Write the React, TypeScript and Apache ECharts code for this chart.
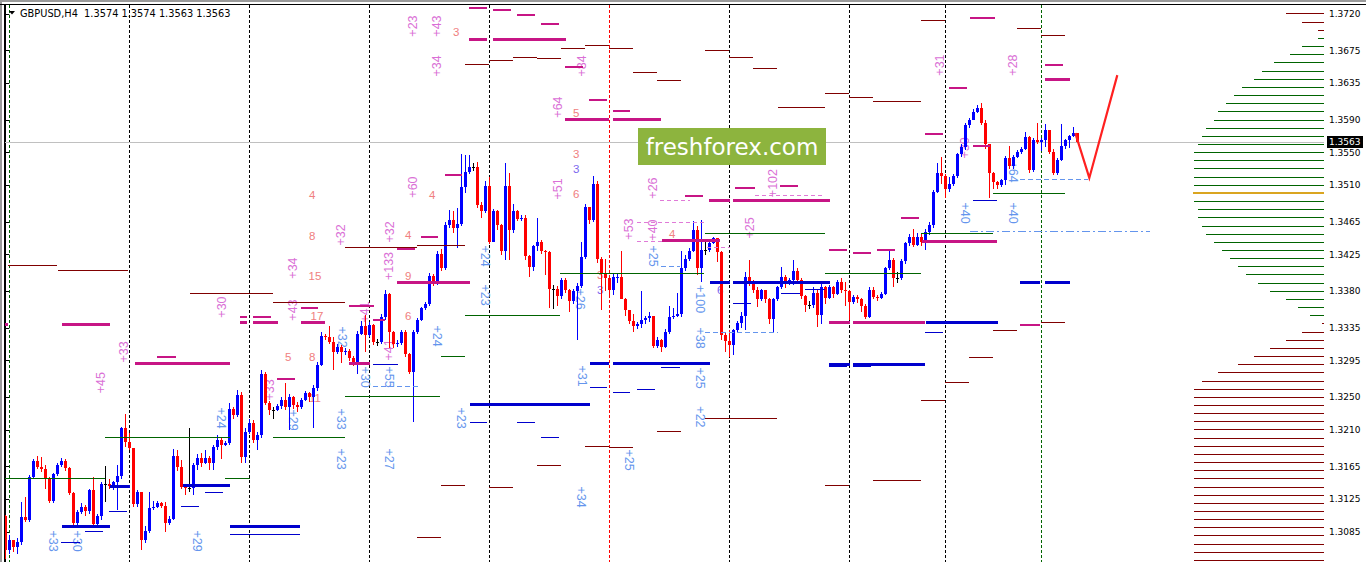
import React, { useEffect, useRef } from "react";
import * as echarts from "echarts";

// ---------- scale helpers (prices stored as pips above 1.3000) ----------
const BASE = 1.3;
const PIP = 0.0001;
const toPrice = (p: number) => BASE + p * PIP;

// ---------- candles: GBPUSD H4 (pips above 1.3000) ----------
const firstOpen = 104;
const closes = [
  63, 75, 67, 73, 103, 100, 152, 172, 164, 162, 150, 123, 156, 167, 172, 163, 133, 96, 109, 116,
  111, 136, 95, 104, 144, 144, 141, 146, 153, 212, 195, 188, 119, 134, 75, 86, 114, 116, 121, 117,
  96, 101, 178, 164, 140, 139, 139, 167, 176, 170, 176, 170, 189, 198, 192, 194, 236, 228, 253, 177,
  208, 219, 198, 204, 279, 243, 234, 234, 239, 247, 238, 251, 240, 238, 247, 255, 250, 262, 290, 325,
  324, 318, 306, 312, 306, 307, 298, 290, 328, 337, 326, 339, 318, 318, 348, 377, 330, 315, 316, 330,
  303, 281, 330, 345, 359, 364, 399, 390, 426, 408, 461, 467, 457, 462, 508, 526, 532, 532, 486, 478,
  509, 441, 478, 461, 430, 509, 455, 479, 469, 470, 423, 410, 435, 441, 429, 428, 383, 383, 374, 394,
  381, 368, 380, 386, 422, 483, 468, 512, 420, 402, 396, 381, 397, 398, 371, 357, 343, 337, 340, 345,
  347, 350, 313, 320, 312, 330, 349, 350, 352, 409, 419, 430, 455, 408, 431, 431, 439, 445, 428, 326,
  319, 314, 332, 341, 350, 397, 390, 382, 370, 381, 370, 346, 370, 385, 398, 390, 394, 405, 394, 374,
  363, 363, 378, 351, 385, 372, 385, 377, 391, 382, 380, 367, 373, 370, 362, 349, 382, 373, 372, 377,
  408, 418, 396, 396, 417, 439, 447, 437, 447, 441, 453, 461, 502, 525, 521, 506, 512, 521, 548, 557,
  584, 590, 600, 605, 586, 561, 525, 514, 510, 516, 543, 533, 545, 551, 555, 569, 529, 565, 563, 565,
  578, 551, 525, 541, 558, 566, 570, 574, 563,
];
const highs = [
  106, 81, 75, 78, 122, 128, 155, 174, 178, 177, 167, 152, 157, 169, 175, 174, 164, 134, 112, 120,
  118, 138, 152, 107, 146, 166, 150, 148, 167, 214, 230, 206, 188, 136, 134, 92, 134, 123, 123, 122,
  122, 104, 187, 185, 173, 143, 213, 169, 181, 182, 185, 178, 191, 204, 201, 197, 243, 238, 259, 256,
  212, 224, 222, 207, 283, 281, 245, 238, 242, 250, 267, 254, 252, 244, 249, 258, 257, 265, 293, 330,
  328, 337, 324, 315, 314, 310, 309, 301, 331, 343, 351, 342, 340, 322, 352, 381, 378, 331, 320, 333,
  333, 304, 333, 347, 361, 367, 402, 401, 430, 432, 465, 480, 478, 482, 548, 547, 547, 537, 539, 490,
  515, 520, 481, 480, 463, 537, 525, 487, 480, 474, 474, 425, 437, 470, 443, 431, 430, 388, 386, 396,
  396, 383, 383, 390, 440, 487, 483, 521, 515, 422, 420, 400, 402, 402, 430, 372, 356, 352, 342, 380,
  350, 355, 350, 324, 322, 334, 362, 360, 378, 430, 424, 433, 466, 460, 467, 440, 441, 447, 445, 430,
  330, 333, 334, 343, 355, 404, 418, 394, 385, 383, 382, 372, 372, 387, 410, 400, 396, 418, 408, 396,
  376, 368, 385, 382, 389, 386, 388, 386, 394, 396, 392, 382, 375, 375, 372, 364, 385, 385, 376, 379,
  410, 430, 421, 404, 419, 441, 450, 456, 452, 450, 456, 465, 504, 537, 545, 524, 520, 524, 550, 560,
  586, 592, 603, 608, 611, 590, 561, 526, 515, 518, 546, 558, 547, 553, 557, 575, 571, 568, 586, 568,
  585, 578, 554, 543, 585, 567, 572, 582, 574,
];
const lows = [
  52, 58, 60, 58, 69, 97, 97, 150, 162, 158, 137, 120, 120, 154, 164, 160, 130, 91, 91, 107,
  105, 107, 93, 91, 100, 122, 138, 136, 112, 150, 189, 185, 116, 116, 63, 72, 84, 112, 114, 114,
  85, 94, 99, 160, 138, 130, 134, 130, 161, 165, 168, 161, 161, 186, 174, 190, 192, 224, 226, 170,
  169, 205, 194, 186, 200, 240, 228, 223, 233, 236, 235, 210, 236, 232, 236, 245, 244, 213, 258, 288,
  320, 315, 284, 303, 292, 302, 295, 288, 279, 326, 306, 324, 314, 313, 315, 345, 310, 311, 312, 314,
  300, 278, 220, 328, 343, 357, 362, 386, 388, 405, 406, 457, 452, 433, 460, 500, 524, 528, 482, 470,
  476, 438, 440, 455, 425, 418, 418, 452, 466, 466, 418, 398, 405, 430, 426, 400, 360, 358, 362, 370,
  378, 354, 364, 320, 384, 420, 462, 465, 415, 357, 380, 375, 375, 390, 370, 350, 340, 330, 334, 335,
  340, 342, 310, 310, 305, 310, 328, 346, 348, 348, 405, 417, 428, 400, 392, 425, 428, 438, 416, 320,
  306, 300, 302, 330, 335, 332, 386, 378, 361, 368, 366, 340, 330, 368, 383, 384, 388, 388, 390, 370,
  355, 358, 360, 336, 340, 365, 370, 372, 376, 378, 362, 345, 364, 366, 355, 346, 347, 371, 368, 370,
  376, 406, 385, 390, 394, 414, 436, 434, 436, 436, 431, 449, 458, 500, 512, 494, 502, 509, 519, 545,
  553, 580, 590, 598, 584, 555, 494, 505, 505, 508, 510, 530, 530, 544, 548, 553, 525, 526, 560, 552,
  557, 548, 522, 522, 540, 555, 556, 569, 562,
];

// ---------- axis ----------
const yTickLabels = [
  1.3085, 1.3125, 1.3165, 1.321, 1.325, 1.3295, 1.3335, 1.338, 1.3425, 1.3465, 1.351, 1.355, 1.359,
  1.3635, 1.3675, 1.372,
];
const titleText = "GBPUSD,H4  1.3574 1.3574 1.3563 1.3563";

// ---------- period separators (candle index, colour key) ----------
const separators: [number, string][] = [
  [1, "g"], [31, "k"], [61, "k"], [91, "k"], [121, "k"], [151, "r"], [181, "k"], [211, "k"], [235, "k"], [259, "g"],
];

// ---------- horizontal level objects: [startIndex, endIndex, pips] ----------
const magentaThick = [
  [-0.3, 0.7, 339], [14.2, 26.2, 339], [32.4, 56.2, 292], [58.7, 60.4, 341.5], [61.9, 68.2, 341.5],
  [73.9, 79.9, 341.5], [85.9, 91.2, 291], [97.9, 116.2, 390.5], [115.9, 120.4, 689.3], [121.9, 140.2, 689.3],
  [139.9, 150.9, 590.3], [151.9, 163.9, 590.3], [175.9, 181.2, 491], [181.9, 206.2, 491], [164.2, 178.7, 442],
  [205.9, 211.2, 341.5], [211.9, 229.9, 341.5], [229.2, 247.9, 440.8], [259.9, 266.2, 640.2],
];
const magentaThin = [
  [37.9, 42.7, 299.4], [58.7, 60.4, 348.8], [61.9, 66.4, 348.8], [73.9, 78.2, 359.5], [67.9, 72.4, 272.4],
  [85.9, 92.2, 361.9], [91.9, 94.9, 344.8], [97.9, 102.4, 432.2], [103.9, 108.2, 446.2], [109.9, 114.2, 522.6],
  [115.9, 120.4, 726.9], [121.9, 126.4, 724.5], [127.9, 132.4, 718.3], [133.9, 138.4, 707.3], [139.9, 144.4, 654.6],
  [145.9, 150.4, 614.5], [151.9, 156.2, 600.6], [169.9, 174.4, 496.8], [182.4, 187.4, 506.6], [193.7, 198.2, 509],
  [205.9, 210.4, 430.6], [211.9, 216.4, 426.6], [217.9, 222.4, 431], [223.9, 228.4, 469.5], [229.9, 234.4, 572.8],
  [235.9, 240.4, 628.8], [241.9, 246.2, 558.1], [241.2, 247.4, 715], [253.7, 258.7, 338.7], [259.9, 264.4, 657],
];
const pinkDashed = [
  [157.9, 175.4, 464.1], [157.9, 167.9, 440.8], [163.7, 171.2, 491.9], [175.4, 181.2, 433.9], [187.4, 204.9, 498],
];
const darkRed = [
  [0.7, 12.9, 412.2], [13.2, 30.7, 406.1], [46.2, 66.9, 377.5], [66.9, 84.9, 366.5], [84.9, 102.9, 433.9],
  [102.9, 114.9, 435.9], [114.9, 120.9, 658.3], [120.9, 126.9, 663.2], [126.9, 132.9, 666.8], [132.9, 138.9, 665.6],
  [138.9, 144.9, 677.9], [144.9, 150.9, 681.6], [150.9, 156.9, 677.9], [156.9, 162.9, 648.8], [162.9, 168.9, 639],
  [174.9, 180.9, 675.8], [180.9, 186.9, 667.2], [186.9, 192.9, 653.7], [193.2, 204.9, 605.9], [204.9, 210.9, 623.1],
  [210.9, 216.9, 618.2], [216.9, 228.9, 613.3], [228.9, 234.9, 711.4], [252.9, 258.9, 702.8], [258.9, 264.9, 694.2],
  [102.9, 108.9, 78.7], [108.9, 114.9, 142.5], [120.9, 126.9, 140], [132.9, 138.9, 167], [144.9, 150.9, 190.3],
  [150.9, 156.9, 187.9], [162.9, 168.9, 207.5], [174.9, 192.9, 224.6], [204.9, 210.9, 142.5], [216.9, 228.9, 148.6],
  [228.9, 234.9, 246.7], [234.9, 240.9, 267.9], [240.9, 246.9, 299.4], [246.9, 252.9, 332.5], [258.9, 264.9, 341.5],
];
const darkGreen = [
  [-0.3, 24.9, 150.7], [24.9, 56.2, 201], [55, 61.2, 150.7], [66.9, 84.9, 201], [84.9, 108.7, 251.6],
  [108.9, 114.9, 300.6], [114.9, 138.7, 350.9], [138.7, 174.7, 401.2], [174.9, 204.9, 451.1], [204.9, 228.9, 401.2],
  [228.9, 246.9, 451.1], [246.9, 264.9, 500.1],
];
const blueThick = [
  [14.2, 26.2, 91.4], [26.2, 31.2, 140.4], [44.4, 56.2, 141.3], [56.2, 73.7, 91.4], [116.2, 146.2, 240.6],
  [146.2, 150.9, 291], [151.9, 176.2, 291], [176.2, 181.2, 390.5], [181.9, 206.2, 390.5], [205.9, 211.2, 290.8],
  [211.9, 229.9, 290.8], [230.2, 248.2, 341.5], [253.7, 258.7, 390.5], [259.9, 266.2, 390.5],
];
const blueThin = [
  [13.9, 18.7, 72.2], [19.9, 24.4, 86.1], [25.9, 30.4, 110.6], [43.9, 48.4, 116.7], [49.9, 54.4, 133.5],
  [56.2, 73.7, 82], [116.2, 120.4, 219.7], [127.9, 132.4, 219.7], [133.9, 138.4, 201.3], [91.9, 98.2, 290.8],
  [146.2, 150.4, 262.3], [151.9, 156.2, 256.1], [157.9, 162.4, 260.2], [163.9, 168.7, 286.8], [181.9, 186.4, 365.2],
  [193.9, 198.7, 377.5], [199.9, 204.9, 382.4], [205.9, 210.4, 287.5], [211.9, 216.4, 287.5], [229.9, 234.4, 329.7],
  [241.9, 247.9, 490.7],
];
const blueDashed = [
  [91.9, 103.2, 263], [163.9, 168.7, 410.1], [174.9, 193.2, 329.2], [253.7, 270.7, 517.6],
];
const blueDashDot = [[241.2, 286.2, 453.9]];

// ---------- vertical labels: [index, pips, text] ----------
const pinkLabels: [number, number, string][] = [
  [23.9, 268, "+45"], [29.7, 305.6, "+33"], [54.2, 360.7, "+30"], [71.9, 408.5, "+34"], [71.9, 357, "+43"],
  [66.2, 259, "+33"], [83.9, 449, "+32"], [96.2, 452.7, "+32"], [95.9, 411, "+133"], [95.9, 308, "+41"],
  [89.9, 354.6, "+41"], [101.9, 507.8, "+60"], [101.9, 705.2, "+23"], [107.9, 705.2, "+43"], [107.9, 656.2, "+34"],
  [144.2, 656.2, "+84"], [138.2, 605.9, "+64"], [138.2, 505.4, "+51"], [161.9, 506.6, "+26"], [155.9, 456.3, "+53"],
  [161.9, 455.1, "+40"], [191.9, 512.7, "+102"], [186.2, 457.6, "+25"], [233.7, 657.4, "+31"], [251.9, 657.4, "+28"],
  [239.9, 555.7, "+30"],
];
const blueLabels: [number, number, string][] = [
  [161.9, 423.2, "+25"], [173.7, 370.5, "+100"], [173.7, 322.7, "+38"], [173.7, 273.7, "+25"], [173.7, 225.9, "+22"],
  [144.2, 276.1, "+31"], [143.7, 370.5, "+26"], [143.9, 127.8, "+34"], [155.9, 173.1, "+25"], [113.9, 224.6, "+23"],
  [107.9, 325.2, "+24"], [119.9, 423.2, "+24"], [119.9, 375.4, "+23"], [53.9, 224.6, "+24"], [47.9, 73.8, "+29"],
  [11.9, 73.8, "+33"], [17.9, 73.8, "+30"], [83.9, 223.4, "+33"], [83.9, 174.4, "+23"], [95.9, 174.4, "+27"],
  [89.9, 274.9, "+30"], [95.9, 274.9, "+55"], [71.9, 222.2, "+29"], [84.2, 323.9, "+32"], [239.9, 476, "+40"],
  [251.9, 476, "+40"], [251.9, 526.2, "+64"],
];
const salmonNumbers: [number, number, string][] = [
  [76.7, 498, "4"], [76.7, 447.8, "8"], [77.4, 398.7, "15"], [77.9, 349.7, "17"], [70.7, 299.4, "5"],
  [76.7, 299.4, "8"], [77.4, 249.2, "11"], [100.7, 449, "4"], [100.7, 398.7, "9"], [100.7, 349.7, "6"],
  [106.7, 498, "4"], [112.7, 697.9, "3"], [142.7, 598.6, "5"], [142.7, 548.3, "3"], [142.7, 499.3, "6"],
  [166.7, 450.2, "4"], [148.7, 400, "3"],
];
const purpleNumbers: [number, number, string][] = [
  [142.7, 529.9, "3"], [148.7, 381.6, "3"], [178.7, 381.6, "6"],
];

// ---------- volume profile on the right (10-pip bins from 1.3720 down) ----------
const profileTopPips = 720;
const profileBinPips = 10;
const profileLen = [
  9.5, 5.5, 1.5, 1.5, 5.5, 8.5, 12.5, 15.5, 17.5, 20.5, 22.5, 24.5, 26.5, 27.5, 29.5, 30.5, 31.5, 32.5, 32.5, 32.5,
  32.5, 32.5, 32.75, 32.5, 31.5, 31.5, 30.5, 29.5, 27.5, 25.5, 23.5, 21.5, 19.5, 16.5, 13.5, 9.5, 6.5, 3.5, 0.5, 5.5,
  9.5, 13.5, 17.5, 21.5, 26.5, 30.5, 32.5, 32.5, 32.5, 32.5, 32.5, 32.5, 32.5, 32.5, 32.5, 32.5, 32.5, 32.5, 32.5, 32.5,
  32.5, 32.5, 32.5, 32.5, 32.5, 32.5, 32.5, 32.5,
];
// runs of bin kinds from the top: R = sell (dark red), G = buy (green), O = point of control
const profileRuns: [string, number][] = [["R", 3], ["G", 19], ["O", 1], ["G", 15], ["R", 30]];

// ---------- forecast arrow: [index, pips] ----------
const forecast = [[267.5, 574], [271, 519], [278, 645]];

// ---------- layout ----------
const W = 1366;
const H = 562;
const GRID_LEFT = 4;
const GRID_RIGHT = 42;
const GRID_TOP = 5;
const X_MIN = -0.33;
const X_MAX = X_MIN + (W - GRID_LEFT - GRID_RIGHT) / 4;
const Y_MIN = 1.30481;
const Y_MAX = 1.3731;

const COL = {
  up: "#0000FF",
  down: "#FF0000",
  doji: "#000000",
  magenta: "#C71585",
  pink: "#E07AD8",
  darkRed: "#800000",
  green: "#006400",
  blue: "#0000CD",
  lightBlue: "#6495ED",
  labelPink: "#DA70D6",
  labelBlue: "#6495ED",
  salmon: "#F08080",
  purple: "#7B68EE",
  orange: "#DAA520",
};

const crisp = (v: number, w: number) => (Math.round(w) % 2 === 1 ? Math.round(v - 0.5) + 0.5 : Math.round(v));

function segmentSeries(data: number[][], color: string, width: number, dash?: number[], z = 4) {
  return {
    type: "custom",
    silent: true,
    clip: true,
    z,
    data: data.map((d) => [d[0], d[1], toPrice(d[2])]),
    encode: { x: [0, 1], y: 2 },
    renderItem: (params: any, api: any) => {
      const a = api.coord([api.value(0), api.value(2)]);
      const b = api.coord([api.value(1), api.value(2)]);
      const y = crisp(a[1], width);
      return {
        type: "line",
        shape: { x1: Math.round(a[0]), y1: y, x2: Math.round(b[0]), y2: y },
        style: { stroke: color, lineWidth: width, lineDash: dash || null },
      };
    },
  };
}

// rotation: +1 = text reads bottom-to-top, -1 = top-to-bottom, 0 = horizontal
function labelSeries(list: [number, number, string][], color: string, rotation: number, font: string) {
  return {
    type: "custom",
    silent: true,
    clip: false,
    z: 2,
    data: list.map((d) => [d[0], toPrice(d[1])]),
    encode: { x: 0, y: 1 },
    renderItem: (params: any, api: any) => {
      const p = api.coord([api.value(0), api.value(1)]);
      return {
        type: "text",
        x: p[0],
        y: p[1],
        rotation: (rotation * Math.PI) / 2,
        style: {
          text: list[params.dataIndex][2],
          fill: color,
          font,
          align: "center",
          verticalAlign: "middle",
          textAlign: "center",
          textVerticalAlign: "middle",
        },
      };
    },
  };
}

function buildOption() {
  const candles = closes.map((c, i) => {
    const o = i === 0 ? firstOpen : closes[i - 1];
    const h = Math.max(highs[i], o, c);
    const l = Math.min(lows[i], o, c);
    return [i, toPrice(o), toPrice(c), toPrice(l), toPrice(h)];
  });
  const profileKind: string[] = [];
  profileRuns.forEach(([k, n]) => {
    for (let j = 0; j < n; j++) profileKind.push(k);
  });
  const lastClose = toPrice(closes[closes.length - 1]);
  const axisFont = "DejaVu Sans";

  const series: any[] = [];

  // period separators
  series.push({
    type: "custom",
    silent: true,
    z: 1,
    data: separators.map((s) => [s[0]]),
    encode: { x: 0 },
    renderItem: (params: any, api: any) => {
      const top = api.coord([api.value(0), Y_MAX]);
      const bot = api.coord([api.value(0), Y_MIN]);
      const k = separators[params.dataIndex][1];
      const x = Math.floor(top[0]) + 0.5;
      return {
        type: "line",
        shape: { x1: x, y1: top[1], x2: x, y2: bot[1] },
        style: { stroke: k === "g" ? COL.green : k === "r" ? COL.down : "#000", lineWidth: 1, lineDash: [3, 2] },
      };
    },
  });

  // current price line
  series.push({
    type: "custom",
    silent: true,
    clip: false,
    z: 1,
    data: [[0, lastClose]],
    encode: { x: 0, y: 1 },
    renderItem: (params: any, api: any) => {
      const p = api.coord([0, api.value(1)]);
      const cs = params.coordSys;
      const y = crisp(p[1], 1);
      return {
        type: "line",
        shape: { x1: cs.x, y1: y, x2: cs.x + cs.width, y2: y },
        style: { stroke: "#C0C0C0", lineWidth: 1 },
      };
    },
  });
  // current price label
  series.push({
    type: "custom",
    silent: true,
    clip: false,
    z: 10,
    data: [[0, lastClose]],
    encode: { x: 0, y: 1 },
    renderItem: (params: any, api: any) => {
      const p = api.coord([0, api.value(1)]);
      const cs = params.coordSys;
      const y = Math.round(p[1]);
      const x = cs.x + cs.width + 3;
      return {
        type: "group",
        children: [
          { type: "rect", shape: { x, y: y - 6, width: 36, height: 12 }, style: { fill: "#000" } },
          {
            type: "text",
            x: x + 2,
            y: y,
            style: {
              text: api.value(1).toFixed(4),
              fill: "#fff",
              font: `9px "${axisFont}"`,
              align: "left",
              verticalAlign: "middle",
              textAlign: "left",
              textVerticalAlign: "middle",
            },
          },
        ],
      };
    },
  });

  // text annotations
  series.push(labelSeries(pinkLabels, COL.labelPink, 1, '12.5px "Liberation Sans"'));
  series.push(labelSeries(blueLabels, COL.labelBlue, -1, '12.5px "Liberation Sans"'));
  series.push(labelSeries(salmonNumbers, COL.salmon, 0, '11.5px "Liberation Sans"'));
  series.push(labelSeries(purpleNumbers, COL.purple, 0, '11.5px "Liberation Sans"'));

  // candles
  series.push({
    type: "custom",
    name: "GBPUSD",
    silent: true,
    clip: true,
    z: 3,
    data: candles,
    encode: { x: 0, y: [1, 2, 3, 4] },
    renderItem: (params: any, api: any) => {
      const i = api.value(0);
      const o = api.value(1);
      const c = api.value(2);
      const po = api.coord([i, o]);
      const pc = api.coord([i, c]);
      const pl = api.coord([i, api.value(3)]);
      const ph = api.coord([i, api.value(4)]);
      const x = Math.floor(po[0]);
      const color = c > o + 1e-9 ? COL.up : c < o - 1e-9 ? COL.down : COL.doji;
      const yT = Math.round(Math.min(po[1], pc[1]));
      const yB = Math.round(Math.max(po[1], pc[1]));
      const yH = Math.round(ph[1]);
      const yL = Math.round(pl[1]);
      return {
        type: "group",
        children: [
          { type: "rect", shape: { x, y: yH, width: 1, height: Math.max(1, yL - yH) }, style: { fill: color } },
          { type: "rect", shape: { x: x - 1, y: yT, width: 3, height: Math.max(1, yB - yT) }, style: { fill: color } },
        ],
      };
    },
  });

  // volume profile
  series.push({
    type: "custom",
    silent: true,
    clip: true,
    z: 3,
    data: profileLen.map((len, k) => [len, toPrice(profileTopPips - k * profileBinPips)]),
    encode: { x: 0, y: 1 },
    renderItem: (params: any, api: any) => {
      const len = api.value(0);
      const a = api.coord([X_MAX - len, api.value(1)]);
      const b = api.coord([X_MAX, api.value(1)]);
      const kind = profileKind[params.dataIndex];
      const w = kind === "O" ? 2 : 1;
      const y = crisp(a[1], w);
      return {
        type: "line",
        shape: { x1: Math.round(a[0]), y1: y, x2: b[0], y2: y },
        style: { stroke: kind === "G" ? COL.green : kind === "O" ? COL.orange : COL.darkRed, lineWidth: w },
      };
    },
  });

  // level objects
  series.push(segmentSeries(darkGreen, COL.green, 1));
  series.push(segmentSeries(darkRed, COL.darkRed, 1));
  series.push(segmentSeries(pinkDashed, COL.pink, 1, [4, 3]));
  series.push(segmentSeries(blueDashed, COL.lightBlue, 1, [5, 3]));
  series.push(segmentSeries(blueDashDot, COL.lightBlue, 1, [8, 3, 2, 3]));
  series.push(segmentSeries(magentaThin, COL.magenta, 2));
  series.push(segmentSeries(blueThin, COL.blue, 1));
  series.push(segmentSeries(magentaThick, COL.magenta, 3));
  series.push(segmentSeries(blueThick, COL.blue, 3));

  // forecast arrow
  series.push({
    type: "custom",
    silent: true,
    clip: true,
    z: 6,
    data: [forecast.map((p) => p[0]).concat(forecast.map((p) => toPrice(p[1])))],
    renderItem: (params: any, api: any) => {
      const pts = forecast.map((p) => api.coord([p[0], toPrice(p[1])]));
      return {
        type: "polyline",
        shape: { points: pts },
        style: { stroke: "#FF2020", lineWidth: 2.2, fill: null },
      };
    },
  });

  return {
    animation: false,
    backgroundColor: "#ffffff",
    grid: { left: GRID_LEFT, right: GRID_RIGHT, top: GRID_TOP, bottom: 0, containLabel: false },
    xAxis: { type: "value", min: X_MIN, max: X_MAX, show: false, splitLine: { show: false } },
    yAxis: {
      type: "value",
      position: "right",
      min: Y_MIN,
      max: Y_MAX,
      splitLine: { show: false },
      axisLine: { show: true, lineStyle: { color: "#000", width: 1 } },
      axisTick: { show: true, inside: false, length: 4, customValues: yTickLabels, lineStyle: { color: "#000" } },
      axisLabel: {
        customValues: yTickLabels,
        formatter: (v: number) => v.toFixed(4),
        color: "#000",
        fontFamily: axisFont,
        fontSize: 9,
        margin: 5,
        align: "left",
      },
    },
    graphic: [
      { type: "rect", z: 50, shape: { x: 0, y: 0, width: W, height: 2 }, style: { fill: "#9A9A9A" } },
      { type: "rect", z: 50, shape: { x: 0, y: 0, width: 2, height: H }, style: { fill: "#9A9A9A" } },
      { type: "rect", z: 50, shape: { x: 0, y: 4, width: W, height: 1 }, style: { fill: "#000" } },
      { type: "rect", z: 50, shape: { x: 4, y: 4, width: 1, height: H }, style: { fill: "#000" } },
      { type: "polygon", z: 50, shape: { points: [[9, 11], [15, 11], [12, 14.5]] }, style: { fill: "#000" } },
      {
        type: "text",
        z: 50,
        x: 20,
        y: 13,
        style: { text: titleText, fill: "#000", font: `9.8px "${axisFont}"`, verticalAlign: "middle", textVerticalAlign: "middle" },
      },
      { type: "rect", z: 60, shape: { x: 638, y: 128, width: 188, height: 37 }, style: { fill: "#8DB43E" } },
      {
        type: "text",
        z: 61,
        x: 732,
        y: 147,
        style: {
          text: "freshforex.com",
          fill: "#ffffff",
          font: '23px "DejaVu Sans"',
          align: "center",
          verticalAlign: "middle",
          textAlign: "center",
          textVerticalAlign: "middle",
        },
      },
    ],
    series,
  };
}

export default function App() {
  const ref = useRef<HTMLDivElement>(null);
  useEffect(() => {
    const chart = echarts.init(ref.current as HTMLDivElement, null, { renderer: "svg" });
    chart.setOption(buildOption() as any);
    return () => chart.dispose();
  }, []);
  return (
    <div
      ref={ref}
      style={{ position: "fixed", left: 0, top: 0, width: W, height: H, background: "#fff" }}
    />
  );
}
